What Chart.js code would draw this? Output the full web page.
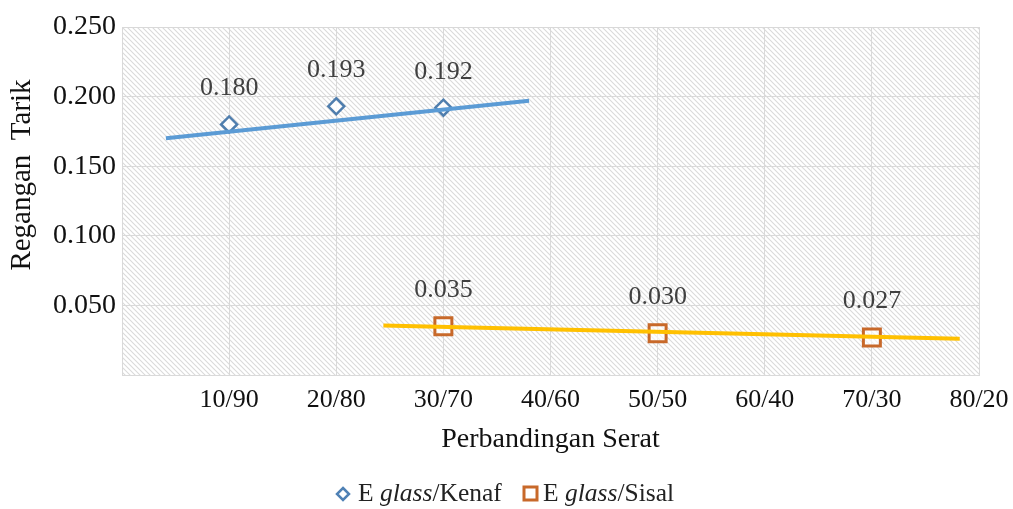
<!DOCTYPE html>
<html>
<head>
<meta charset="utf-8">
<script src="https://cdn.jsdelivr.net/npm/chart.js@4"></script>
<style>
  html, body { margin: 0; padding: 0; background: #fff; }
  #wrap { width: 1013px; height: 509px; }
</style>
</head>
<body>
<div id="wrap"><canvas id="chart1" width="1013" height="509"></canvas></div>
<script>
// categories on the x axis (position 10..80)
let xPos = [10, 20, 30, 40, 50, 60, 70, 80];
let xLabels = ["10/90", "20/80", "30/70", "40/60", "50/50", "60/40", "70/30", "80/20"];

// E glass/Kenaf
let kenafX = [10, 20, 30];
let kenafY = [0.180, 0.193, 0.192];
// E glass/Sisal
let sisalX = [30, 50, 70];
let sisalY = [0.035, 0.030, 0.027];

// trend lines (end points)
let kenafTrendX = [4.1, 38.0];
let kenafTrendY = [0.170, 0.197];
let sisalTrendX = [24.4, 78.2];
let sisalTrendY = [0.0355, 0.026];

let yTicks = [0.05, 0.10, 0.15, 0.20, 0.25];

function pts(xs, ys) {
    let out = [];
    for (let i = 0; i < xs.length; i++) out.push({ x: xs[i], y: ys[i] });
    return out;
}

const serif = "'Liberation Serif', 'Times New Roman', serif";

// hatch pattern for the plot area
let tile = document.createElement("canvas");
tile.width = 5;
tile.height = 5;
let tctx = tile.getContext("2d");
tctx.fillStyle = "#ffffff";
tctx.fillRect(0, 0, 5, 5);
tctx.strokeStyle = "#dadada";
tctx.lineWidth = 1.1;
tctx.beginPath();
tctx.moveTo(-1, -1); tctx.lineTo(6, 6);
tctx.moveTo(-1, 4); tctx.lineTo(1, 6);
tctx.moveTo(4, -1); tctx.lineTo(6, 1);
tctx.stroke();

const hatch = {
    id: "hatch",
    beforeDraw(chart) {
        let a = chart.chartArea;
        let c = chart.ctx;
        c.save();
        c.fillStyle = c.createPattern(tile, "repeat");
        c.fillRect(a.left, a.top, a.right - a.left, a.bottom - a.top);
        c.restore();
    }
};

// value labels, y title and legend
const extras = {
    id: "extras",
    afterDraw(chart) {
        let c = chart.ctx;
        let xs = chart.scales.x, ys = chart.scales.y;
        c.save();
        c.font = "26px " + serif;
        c.fillStyle = "#404040";
        c.textAlign = "center";
        c.textBaseline = "middle";
        let all = [[kenafX, kenafY], [sisalX, sisalY]];
        all.forEach(s => {
            for (let i = 0; i < s[0].length; i++) {
                let px = xs.getPixelForValue(s[0][i]);
                let py = ys.getPixelForValue(s[1][i]);
                c.fillText(s[1][i].toFixed(3), px, py - 36);
            }
        });

        // y axis title
        c.fillStyle = "#111";
        c.font = "29px " + serif;
        c.translate(22, 175);
        c.rotate(-Math.PI / 2);
        c.fillText("Regangan  Tarik", 0, 0);
        c.restore();

        // legend
        c.save();
        c.textBaseline = "middle";
        c.textAlign = "left";
        let ly = 494;
        c.strokeStyle = "#4f81b5";
        c.lineWidth = 2.5;
        c.fillStyle = "#fff";
        c.beginPath();
        c.moveTo(343, ly - 6); c.lineTo(349, ly); c.lineTo(343, ly + 6); c.lineTo(337, ly);
        c.closePath(); c.fill(); c.stroke();
        let x = 358;
        let parts = [["E ", "normal"], ["glass", "italic"], ["/Kenaf", "normal"]];
        c.fillStyle = "#222";
        parts.forEach(p => {
            c.font = p[1] + " 25.5px " + serif;
            c.fillText(p[0], x, ly);
            x += c.measureText(p[0]).width;
        });
        c.strokeStyle = "#c8692a";
        c.lineWidth = 3;
        c.strokeRect(524, ly - 7, 13, 13);
        x = 543;
        parts = [["E ", "normal"], ["glass", "italic"], ["/Sisal", "normal"]];
        parts.forEach(p => {
            c.font = p[1] + " 25.5px " + serif;
            c.fillText(p[0], x, ly);
            x += c.measureText(p[0]).width;
        });
        c.restore();
    }
};

let ctx = document.getElementById("chart1").getContext("2d");
let chart1 = new Chart(ctx, {
    type: "scatter",
    data: {
        datasets: [
            {
                label: "E glass/Kenaf trend",
                data: pts(kenafTrendX, kenafTrendY),
                showLine: true,
                borderColor: "#5b9bd5",
                borderWidth: 4,
                pointRadius: 0
            },
            {
                label: "E glass/Sisal trend",
                data: pts(sisalTrendX, sisalTrendY),
                showLine: true,
                borderColor: "#ffc000",
                borderWidth: 4,
                pointRadius: 0
            },
            {
                label: "E glass/Kenaf",
                data: pts(kenafX, kenafY),
                pointStyle: "rectRot",
                pointRadius: 8,
                borderColor: "#4f7eae",
                backgroundColor: "rgba(255,255,255,0.85)",
                borderWidth: 2.5
            },
            {
                label: "E glass/Sisal",
                data: pts(sisalX, sisalY),
                pointStyle: "rect",
                pointRadius: 12,
                borderColor: "#c8692a",
                backgroundColor: "rgba(255,255,255,0.6)",
                borderWidth: 3
            }
        ]
    },
    options: {
        responsive: false,
        animation: false,
        layout: { padding: { top: 27, right: 34, bottom: 53, left: 0 } },
        plugins: {
            legend: { display: false },
            tooltip: { enabled: false }
        },
        scales: {
            x: {
                type: "linear",
                min: 0,
                max: 80,
                afterFit: s => { s.height = 81; s.paddingRight = 0; s.paddingLeft = 0; },
                afterBuildTicks: s => { s.ticks = [0].concat(xPos).map(v => ({ value: v })); },
                grid: { color: "#d9d9d9", drawTicks: false },
                border: { color: "#d9d9d9" },
                ticks: {
                    padding: 10,
                    maxRotation: 0,
                    autoSkip: false,
                    color: "#111",
                    font: { family: serif, size: 26 },
                    callback: v => v === 0 ? "" : xLabels[xPos.indexOf(v)]
                },
                title: {
                    display: true,
                    text: "Perbandingan Serat",
                    color: "#111",
                    padding: 0,
                    font: { family: serif, size: 28 }
                }
            },
            y: {
                min: 0,
                max: 0.25,
                afterFit: s => { s.width = 122; s.paddingTop = 0; s.paddingBottom = 0; },
                afterBuildTicks: s => { s.ticks = [0].concat(yTicks).map(v => ({ value: v })); },
                grid: { color: "#d9d9d9", drawTicks: false },
                border: { color: "#d9d9d9" },
                ticks: {
                    padding: 6,
                    color: "#111",
                    font: { family: serif, size: 28 },
                    callback: v => v === 0 ? "" : v.toFixed(3)
                }
            }
        }
    },
    plugins: [hatch, extras]
});
</script>
</body>
</html>
